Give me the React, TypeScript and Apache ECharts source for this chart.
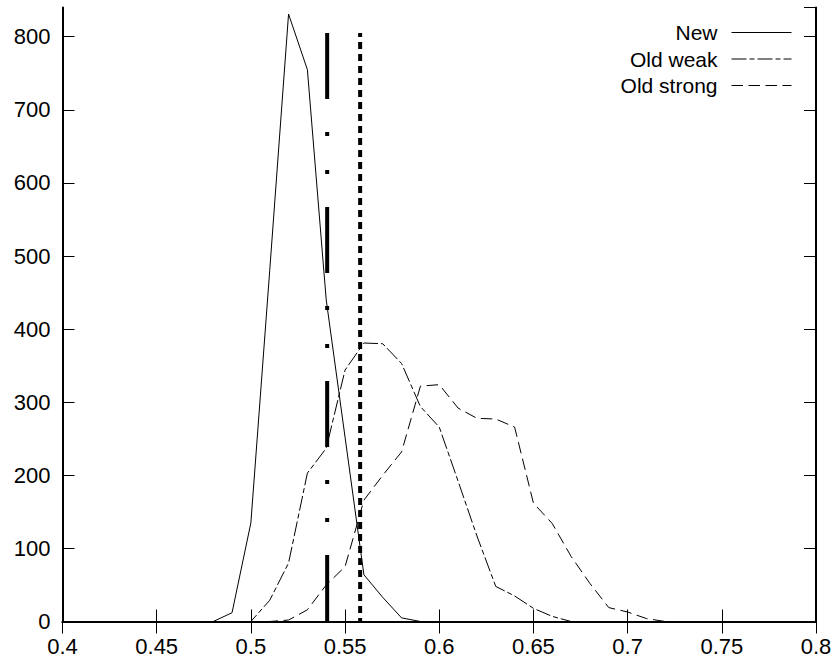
import React, { useEffect, useRef } from "react";
import * as echarts from "echarts";

// Bin centres (x) and counts per series
const binX = [
  0.40, 0.41, 0.42, 0.43, 0.44, 0.45, 0.46, 0.47, 0.48, 0.49,
  0.50, 0.51, 0.52, 0.53, 0.54, 0.55, 0.56, 0.57, 0.58, 0.59,
  0.60, 0.61, 0.62, 0.63, 0.64, 0.65, 0.66, 0.67, 0.68, 0.69,
  0.70, 0.71, 0.72, 0.73, 0.74, 0.75, 0.76, 0.77, 0.78, 0.79, 0.80,
];
const newValues = [
  0, 0, 0, 0, 0, 0, 0, 0, 0, 12,
  135, 480, 831, 755, 440, 252, 64, 33, 5, 0,
  0, 0, 0, 0, 0, 0, 0, 0, 0, 0,
  0, 0, 0, 0, 0, 0, 0, 0, 0, 0, 0,
];
const oldWeakValues = [
  0, 0, 0, 0, 0, 0, 0, 0, 0, 0,
  0, 29, 80, 203, 237, 344, 381, 380, 353, 294,
  266, 192, 117, 48, 35, 18, 7, 0, 0, 0,
  0, 0, 0, 0, 0, 0, 0, 0, 0, 0, 0,
];
const oldStrongValues = [
  0, 0, 0, 0, 0, 0, 0, 0, 0, 0,
  0, 0, 2, 16, 50, 75, 166, 200, 232, 322,
  324, 292, 278, 277, 266, 162, 134, 89, 52, 19,
  13, 4, 0, 0, 0, 0, 0, 0, 0, 0, 0,
];
const seriesNames = ["New", "Old weak", "Old strong"];

// Vertical threshold markers
const weakThresholdX = 0.5405;
const strongThresholdX = 0.558;
const thresholdTop = 805;

// Axis ranges / ticks
const xMin = 0.4;
const xMax = 0.8;
const xInterval = 0.05;
const yMin = 0;
const yMax = 840;
const yInterval = 100;

const FONT = "Liberation Sans, Arial, Helvetica, sans-serif";

export default function App() {
  const ref = useRef<HTMLDivElement>(null);

  useEffect(() => {
    if (!ref.current) return;
    const chart = echarts.init(ref.current, undefined, { renderer: "svg" });

    const toPairs = (vals: number[]) => binX.map((x, i) => [x, vals[i]]);

    const axisLine = { show: true, lineStyle: { color: "#000", width: 2 } };
    const axisTick = { show: true, inside: true, length: 12, lineStyle: { color: "#000", width: 1 } };

    const option: any = {
      animation: false,
      backgroundColor: "#fff",
      grid: { left: 62.5, top: 7.5, width: 753.5, height: 614, containLabel: false },
      xAxis: [
        {
          type: "value",
          min: xMin,
          max: xMax,
          interval: xInterval,
          position: "bottom",
          axisLine,
          axisTick,
          splitLine: { show: false },
          axisLabel: { color: "#000", fontSize: 22, fontFamily: FONT, margin: 14 },
        },
        {
          type: "value",
          min: xMin,
          max: xMax,
          interval: xInterval,
          position: "top",
          axisLine,
          axisTick,
          splitLine: { show: false },
          axisLabel: { show: false },
        },
      ],
      yAxis: [
        {
          type: "value",
          min: yMin,
          max: yMax,
          interval: yInterval,
          position: "left",
          axisLine,
          axisTick,
          splitLine: { show: false },
          axisLabel: { color: "#000", fontSize: 22, fontFamily: FONT, margin: 12, showMaxLabel: false },
        },
        {
          type: "value",
          min: yMin,
          max: yMax,
          interval: yInterval,
          position: "right",
          axisLine,
          axisTick,
          splitLine: { show: false },
          axisLabel: { show: false },
        },
      ],
      legend: {
        data: seriesNames,
        orient: "vertical",
        align: "right",
        right: 43,
        top: 22,
        padding: 0,
        itemWidth: 60,
        itemHeight: 14,
        itemGap: 5.5,
        selectedMode: false,
        itemStyle: { color: "transparent", borderWidth: 0, opacity: 0 },
        lineStyle: { width: 1, color: "#000" },
        textStyle: { color: "#000", fontSize: 21, fontFamily: FONT, padding: [0, 9, 0, 0] },
      },
      series: [
        {
          name: seriesNames[0],
          type: "line",
          xAxisIndex: 0,
          yAxisIndex: 0,
          symbol: "none",
          data: toPairs(newValues),
          itemStyle: { color: "#000" },
          lineStyle: { color: "#000", width: 1, type: "solid" },
        },
        {
          name: seriesNames[1],
          type: "line",
          xAxisIndex: 0,
          yAxisIndex: 0,
          symbol: "none",
          data: toPairs(oldWeakValues),
          itemStyle: { color: "#000" },
          lineStyle: { color: "#000", width: 1, type: [15, 3, 5, 3] },
        },
        {
          name: seriesNames[2],
          type: "line",
          xAxisIndex: 0,
          yAxisIndex: 0,
          symbol: "none",
          data: toPairs(oldStrongValues),
          itemStyle: { color: "#000" },
          lineStyle: { color: "#000", width: 1, type: [11.5, 5.5] },
        },
        {
          name: "weak threshold",
          type: "line",
          xAxisIndex: 0,
          yAxisIndex: 0,
          symbol: "none",
          data: [
            [weakThresholdX, thresholdTop],
            [weakThresholdX, 0],
          ],
          itemStyle: { color: "#000" },
          lineStyle: { color: "#000", width: 4, type: [66, 33, 4, 34, 4, 33], cap: "butt" },
        },
        {
          name: "strong threshold",
          type: "line",
          xAxisIndex: 0,
          yAxisIndex: 0,
          symbol: "none",
          data: [
            [strongThresholdX, thresholdTop],
            [strongThresholdX, 0],
          ],
          itemStyle: { color: "#000" },
          lineStyle: { color: "#000", width: 4, type: [7, 5], dashOffset: 3, cap: "butt" },
        },
      ],
    };

    chart.setOption(option);
    return () => chart.dispose();
  }, []);

  return (
    <div
      ref={ref}
      style={{ position: "fixed", left: 0, top: 0, width: 835, height: 662, background: "#fff" }}
    />
  );
}
